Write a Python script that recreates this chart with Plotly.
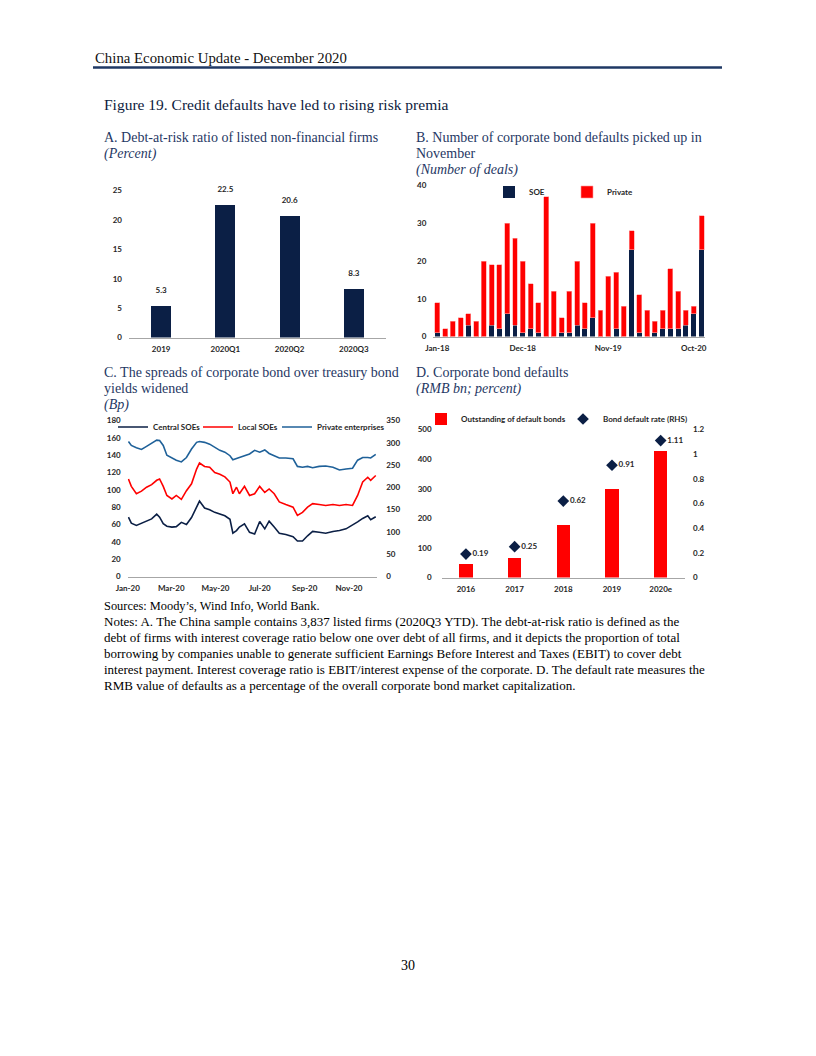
import plotly.graph_objects as go

W, H = 816, 1056
OFF_X, OFF_Y = 8, 7.5  # page body margin offset of the rendered figure


def px(x):
    return (x - OFF_X) / W


def py(y):
    return 1 - (y - OFF_Y) / H


NAVY = "#0B1F45"
RED = "#FF0000"
BLUE = "#1F6199"
TITLE_C = "#1F3864"
SERIF = "Liberation Serif"
SANS = "Lato"
TICK_FONT = dict(family=SANS, size=8, color="#262626", weight="bold")
AXIS_LINE = "#A6A6A6"

# ---------------- Panel A data ----------------
a_cats = ["2019", "2020Q1", "2020Q2", "2020Q3"]
a_vals = [5.3, 22.5, 20.6, 8.3]

# ---------------- Panel B data ----------------
b_months = [
    "Jan-18", "Feb-18", "Mar-18", "Apr-18", "May-18", "Jun-18", "Jul-18", "Aug-18", "Sep-18", "Oct-18", "Nov-18", "Dec-18",
    "Jan-19", "Feb-19", "Mar-19", "Apr-19", "May-19", "Jun-19", "Jul-19", "Aug-19", "Sep-19", "Oct-19", "Nov-19", "Dec-19",
    "Jan-20", "Feb-20", "Mar-20", "Apr-20", "May-20", "Jun-20", "Jul-20", "Aug-20", "Sep-20", "Oct-20", "Nov-20",
]
b_soe = [1, 0, 0, 0, 3, 0, 0, 3, 2, 6, 3, 1,
         2, 1, 0, 0, 1, 1, 3, 2, 5, 0, 0, 2,
         0, 23, 1, 0, 1, 2, 2, 2, 3, 6, 23]
b_private = [8, 2, 4, 5, 3, 4, 20, 16, 17, 24, 23, 19,
             12, 8, 37, 12, 4, 11, 17, 7, 25, 7, 16, 15,
             8, 5, 10, 7, 3, 5, 16, 10, 4, 2, 9]
b_tick_labels = ["Jan-18", "Dec-18", "Nov-19", "Oct-20"]

# ---------------- Panel C data ----------------
c_dates = [
    "2020-01-02", "2020-01-06", "2020-01-13", "2020-01-20", "2020-01-27", "2020-02-03", "2020-02-10",
    "2020-02-14", "2020-02-19", "2020-02-24", "2020-03-02", "2020-03-08", "2020-03-15", "2020-03-22",
    "2020-03-29", "2020-04-05", "2020-04-09", "2020-04-16", "2020-04-23", "2020-04-30", "2020-05-07",
    "2020-05-14", "2020-05-21", "2020-05-25", "2020-05-30", "2020-06-03", "2020-06-10", "2020-06-17",
    "2020-06-24", "2020-07-01", "2020-07-08", "2020-07-14", "2020-07-21", "2020-07-28", "2020-08-06",
    "2020-08-16", "2020-08-22", "2020-08-29", "2020-09-05", "2020-09-12", "2020-09-21", "2020-09-30",
    "2020-10-10", "2020-10-19", "2020-10-28", "2020-11-06", "2020-11-13", "2020-11-20", "2020-11-27",
    "2020-12-01", "2020-12-08",
]
# Left axis (bp)
c_central = [68.5, 61.5, 59, 61.5, 64.5, 66.5, 72, 68.5, 61, 58, 57, 57.5, 62.5, 60, 68,
             79, 87, 79, 77, 74, 72, 70, 66, 50, 53, 57, 60.8, 51, 49, 63.5, 55, 63.8, 57, 50,
             48.5, 46, 41, 41, 47, 52, 51, 50, 52, 53, 55, 59, 63, 67, 70, 65.5, 69]
c_local = [112.5, 104, 95.5, 98.5, 103, 106, 111, 112.5, 104, 93.5, 89.5, 93.5, 89, 99, 107,
           124, 131, 127, 126, 120, 118, 115, 109, 95.5, 103, 95.5, 104, 93.5, 95.5, 104, 97, 101,
           95.5, 86, 83, 80, 70.5, 74, 80, 84, 83, 82, 83, 82, 83, 82, 93.5, 109, 114.5, 111, 116.5]
# Right axis (bp)
c_private = [303, 294, 289, 285, 292, 299, 306, 305, 294, 272, 266, 261, 257, 267, 286,
             301, 303, 301, 297, 289, 283, 279, 271, 262, 264, 267, 271, 275, 283, 279, 284, 276,
             271, 266, 266, 264, 247, 245, 247, 244, 247, 248, 245, 239, 241, 243, 261, 267, 267,
             266, 274]
c_tick_vals = ["2020-01-01", "2020-03-01", "2020-05-01", "2020-07-01", "2020-09-01", "2020-11-01"]
c_tick_text = ["Jan-20", "Mar-20", "May-20", "Jul-20", "Sep-20", "Nov-20"]

# ---------------- Panel D data ----------------
d_years = ["2016", "2017", "2018", "2019", "2020e"]
d_outstanding = [45, 65, 176, 299, 427]
d_rate = [0.19, 0.25, 0.62, 0.91, 1.11]

fig = go.Figure()

# Panel A
fig.add_trace(go.Bar(x=a_cats, y=a_vals, marker=dict(color=NAVY, line=dict(width=0)),
                     width=0.31, xaxis="x", yaxis="y", showlegend=False, hoverinfo="skip"))
fig.add_trace(go.Scatter(x=a_cats, y=a_vals, mode="markers+text", text=[f"{v:.1f}" for v in a_vals],
                         textposition="top center", textfont=TICK_FONT,
                         marker=dict(size=16, color="rgba(0,0,0,0)"), cliponaxis=False,
                         xaxis="x", yaxis="y", showlegend=False, hoverinfo="skip"))

# Panel B
fig.add_trace(go.Bar(x=b_months, y=b_soe, name="SOE", marker=dict(color=NAVY, line=dict(width=0)),
                     width=0.64, xaxis="x2", yaxis="y2", legend="legend"))
fig.add_trace(go.Bar(x=b_months, y=b_private, name="Private",
                     marker=dict(color=RED, line=dict(color="#FF9C9C", width=0.6)),
                     width=0.64, xaxis="x2", yaxis="y2", legend="legend2"))

# Panel C
fig.add_trace(go.Scatter(x=c_dates, y=c_central, name="Central SOEs", mode="lines",
                         line=dict(color=NAVY, width=1.6), xaxis="x3", yaxis="y3", legend="legend3"))
fig.add_trace(go.Scatter(x=c_dates, y=c_local, name="Local SOEs", mode="lines",
                         line=dict(color=RED, width=1.6), xaxis="x3", yaxis="y3", legend="legend4"))
fig.add_trace(go.Scatter(x=c_dates, y=c_private, name="Private enterprises", mode="lines",
                         line=dict(color=BLUE, width=1.6), xaxis="x3", yaxis="y4", legend="legend5"))

# Panel D
fig.add_trace(go.Bar(x=d_years, y=d_outstanding, name="Outstanding of default bonds",
                     marker=dict(color=RED, line=dict(width=0)), width=0.27,
                     xaxis="x4", yaxis="y5", legend="legend6"))
fig.add_trace(go.Scatter(x=d_years, y=d_rate, name="Bond default rate (RHS)", mode="markers+text",
                         marker=dict(symbol="diamond", size=9, color=NAVY),
                         text=[f"{v:.2f}" for v in d_rate], textposition="middle right",
                         textfont=TICK_FONT, cliponaxis=False,
                         xaxis="x4", yaxis="y6", legend="legend7"))

common_y = dict(showgrid=False, zeroline=False, showline=False, ticks="", tickfont=TICK_FONT,
                ticklabelstandoff=6, automargin=False, fixedrange=True)
common_x = dict(showgrid=False, zeroline=False, showline=True, linecolor=AXIS_LINE, linewidth=1,
                ticks="", tickfont=TICK_FONT, ticklabelstandoff=4, automargin=False, fixedrange=True)

legend_font = dict(family=SANS, size=8, color="#262626", weight="bold")


def leg(x, y):
    return dict(orientation="h", x=px(x), y=py(y), xanchor="left", yanchor="top",
                font=legend_font, traceorder="normal", bgcolor="rgba(0,0,0,0)")


fig.update_layout(
    width=W, height=H, margin=dict(l=0, r=0, t=0, b=0, pad=0, autoexpand=False),
    paper_bgcolor="white", plot_bgcolor="white",
    barmode="stack",
    xaxis=dict(common_x, domain=[px(129), px(386)], anchor="y", type="category",
               categoryorder="array", categoryarray=a_cats),
    yaxis=dict(common_y, domain=[py(337), py(190)], anchor="x", range=[0, 25], dtick=5),
    xaxis2=dict(common_x, domain=[px(433.4), px(705.4)], anchor="y2", type="category",
                categoryorder="array", categoryarray=b_months,
                tickvals=b_tick_labels, ticktext=b_tick_labels),
    yaxis2=dict(common_y, domain=[py(336), py(185)], anchor="x2", range=[0, 40], dtick=10),
    xaxis3=dict(common_x, domain=[px(127.7), px(377.2)], anchor="y3", type="date",
                range=["2020-01-01", "2020-12-10"], tickvals=c_tick_vals, ticktext=c_tick_text),
    yaxis3=dict(common_y, domain=[py(576), py(420)], anchor="x3", range=[0, 180], dtick=20),
    yaxis4=dict(common_y, overlaying="y3", side="right", anchor="x3", range=[0, 350], dtick=50,
                ticklabelstandoff=8),
    xaxis4=dict(common_x, domain=[px(441.6), px(685)], anchor="y5", type="category",
                categoryorder="array", categoryarray=d_years),
    yaxis5=dict(common_y, domain=[py(577), py(429)], anchor="x4", range=[0, 500], dtick=100,
                ticklabelstandoff=9),
    yaxis6=dict(common_y, overlaying="y5", side="right", anchor="x4", range=[0, 1.2], dtick=0.2,
                ticklabelstandoff=7),
    legend=leg(489, 177),
    legend2=leg(567, 177),
    legend3=leg(113, 412),
    legend4=leg(198, 412),
    legend5=leg(277, 412),
    legend6=leg(421, 404),
    legend7=leg(563, 404),
)

# Header line
fig.add_shape(type="line", xref="paper", yref="paper", x0=px(93), x1=px(722), y0=py(67), y1=py(67),
              line=dict(color=TITLE_C, width=2.5))


def txt(x, y, s, size=12.5, color="#000000", italic=False, family=SERIF, anchor="left"):
    fig.add_annotation(x=px(x), y=py(y), xref="paper", yref="paper", text=s, showarrow=False,
                       xanchor=anchor, yanchor="middle", borderpad=0,
                       font=dict(family=family, size=size, color=color,
                                 style="italic" if italic else "normal"))


txt(94, 57, "China Economic Update - December 2020", size=14.8, color="#111111")
txt(103, 104, "Figure 19. Credit defaults have led to rising risk premia", size=15.5, color="#0d1b3e")

TS = 14
txt(103, 137, "A. Debt-at-risk ratio of listed non-financial firms", size=TS, color=TITLE_C)
txt(103, 153, "(Percent)", size=TS, color=TITLE_C, italic=True)

txt(415, 137, "B. Number of corporate bond defaults picked up in", size=TS, color=TITLE_C)
txt(415, 153, "November", size=TS, color=TITLE_C)
txt(415, 169, "(Number of deals)", size=TS, color=TITLE_C, italic=True)

txt(103, 372, "C. The spreads of corporate bond over treasury bond", size=TS, color=TITLE_C)
txt(103, 388, "yields widened", size=TS, color=TITLE_C)
txt(103, 404, "(Bp)", size=TS, color=TITLE_C, italic=True)

txt(415, 372, "D. Corporate bond defaults", size=TS, color=TITLE_C)
txt(415, 388, "(RMB bn; percent)", size=TS, color=TITLE_C, italic=True)

notes = [
    "Sources: Moody’s, Wind Info, World Bank.",
    "Notes: A. The China sample contains 3,837 listed firms (2020Q3 YTD). The debt-at-risk ratio is defined as the",
    "debt of firms with interest coverage ratio below one over debt of all firms, and it depicts the proportion of total",
    "borrowing by companies unable to generate sufficient Earnings Before Interest and Taxes (EBIT) to cover debt",
    "interest payment. Interest coverage ratio is EBIT/interest expense of the corporate. D. The default rate measures the",
    "RMB value of defaults as a percentage of the overall corporate bond market capitalization.",
]
for i, line in enumerate(notes):
    txt(103, 605 + 16 * i, line, size=12.4 if i == 0 else 13)

txt(408, 965, "30", size=14, anchor="center")

fig.write_html("out.html")
